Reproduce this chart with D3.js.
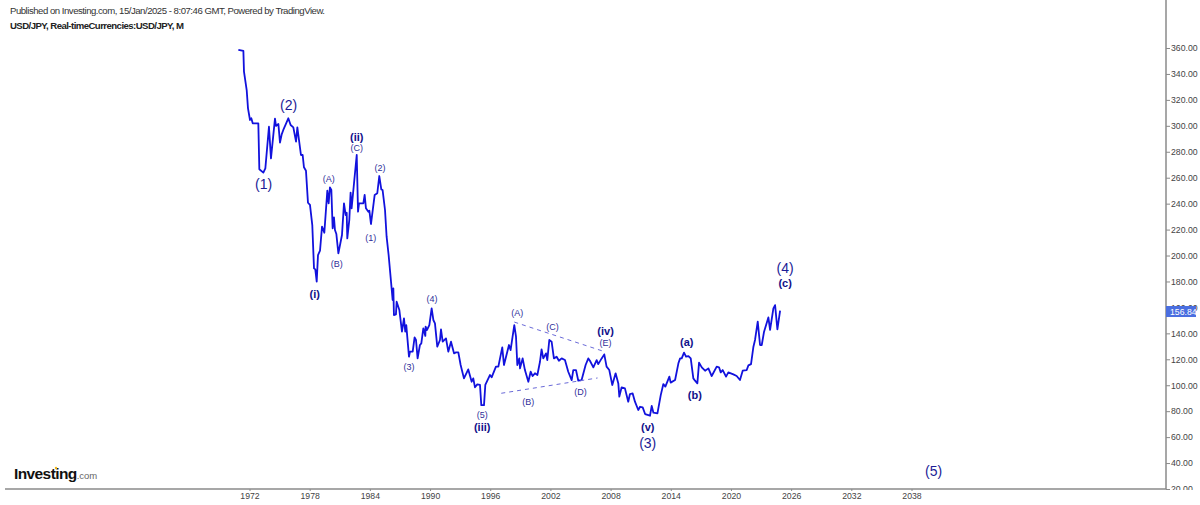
<!DOCTYPE html>
<html>
<head>
<meta charset="utf-8">
<script src="https://cdn.jsdelivr.net/npm/d3@7"></script>
<style>
  html, body { margin: 0; padding: 0; background: #fff; }
  svg { display: block; font-family: "Liberation Sans", Arial, sans-serif; }
  .axis path, .axis line { stroke: #8a8a8a; }
  .axis path { stroke-width: 1.5; }
  .axis text { fill: #444; font-size: 8.7px; font-family: "Liberation Sans", Arial, sans-serif; }
</style>
</head>
<body>
<div id="chart"></div>
<script>
// USD/JPY monthly line
var priceYears = [
  1970.89,1971.39,1971.45,1971.72,1971.85,1972.05,1972.18,1972.32,1972.88,1972.98,1973.38,1973.58,1973.94,1974.14,
  1974.54,1974.64,1974.88,1975.04,1975.21,1975.37,1975.87,1976.10,1976.37,1976.64,1976.77,1977.13,1977.30,1977.43,
  1977.63,1977.83,1978.03,1978.26,1978.43,1978.56,1978.70,1978.83,1979.03,1979.23,1979.46,1979.76,1979.89,1980.02,
  1980.16,1980.29,1980.42,1980.52,1980.66,1980.72,1980.86,1981.22,1981.42,1981.59,1981.69,1981.75,1981.95,1982.08,
  1982.18,1982.42,1982.69,1982.82,1982.92,1983.35,1983.48,1983.61,1983.85,1983.95,1984.11,1984.48,1984.74,1984.94,
  1985.14,1985.27,1985.51,1985.67,1985.87,1986.17,1986.27,1986.34,1986.40,1986.60,1986.67,1986.94,1987.20,1987.40,
  1987.53,1987.63,1987.90,1988.00,1988.27,1988.46,1988.60,1988.76,1988.99,1989.13,1989.33,1989.53,1989.56,1989.69,
  1989.93,1990.16,1990.33,1990.49,1990.72,1990.99,1991.09,1991.26,1991.59,1991.82,1992.09,1992.39,1992.59,1992.82,
  1993.05,1993.38,1993.81,1994.15,1994.31,1994.48,1994.71,1994.98,1995.11,1995.38,1995.51,1995.71,1995.98,1996.14,
  1996.57,1996.81,1997.20,1997.37,1997.87,1998.03,1998.40,1998.57,1998.70,1998.90,1998.97,1999.23,1999.46,1999.80,
  2000.03,2000.23,2000.46,2000.70,2000.96,2001.12,2001.29,2001.56,2001.69,2001.89,2002.12,2002.35,2002.62,2002.85,
  2003.12,2003.45,2003.78,2004.12,2004.28,2004.55,2004.78,2005.11,2005.51,2005.78,2005.94,2006.28,2006.61,2006.77,
  2007.11,2007.37,2007.60,2007.87,2008.17,2008.50,2008.77,2008.87,2009.10,2009.43,2009.76,2009.93,2010.20,2010.43,
  2010.76,2010.94,2011.20,2011.44,2011.93,2012.10,2012.27,2012.67,2013.00,2013.26,2013.46,2013.86,2013.99,2014.43,
  2014.76,2014.93,2015.09,2015.32,2015.52,2015.76,2015.99,2016.25,2016.42,2016.65,2016.82,2017.09,2017.42,2017.75,
  2018.08,2018.58,2018.81,2018.98,2019.18,2019.51,2019.74,2020.24,2020.57,2020.90,2021.17,2021.57,2021.74,2022.00,
  2022.24,2022.40,2022.67,2022.90,2023.07,2023.30,2023.73,2023.90,2024.23,2024.40,2024.63,2024.90
];
var priceValues = [
  358.5,357.7,341.8,327.6,313.5,304.5,305.8,301.9,301.9,266.5,263.9,267.2,299.3,274.9,
  305.5,299.9,301.4,287,293.4,296.8,305.8,300.6,298.8,287.8,298.8,277.5,277.5,268,
  265.4,240.7,239,223.5,190.1,189.3,179.9,200.4,203.7,222.3,217.6,250,240.2,252.6,
  250.5,221,229.4,219.7,216.6,212,201.7,215.8,240.2,231.2,233,213.2,227.4,248.5,
  236.4,255.7,277.5,233.8,240.2,240.2,246.7,236.4,233.8,234.6,224.3,246.7,248,261.3,
  251,250.5,235.1,214.5,200.4,174.7,165.7,174.7,154.1,154.6,164.4,158,141.3,151.6,
  141.3,146.4,122,125.9,125.9,136.9,134.9,120.7,131,132.3,143.9,138,145.2,142.6,
  146.4,159.3,150.3,147.7,129.7,134.9,143,133.6,136.1,125.9,133.6,124.6,125.3,125.3,
  115.6,105.3,112.2,102.7,105.3,98.4,100.7,100.2,84.7,84.7,100.2,103.5,107.9,106.1,
  114.3,114.3,129.2,115.6,131,127.1,146.4,137.4,115.6,120.7,113,120.7,111.7,102.7,
  110.4,107.1,109.2,107.9,118.1,127.7,120.7,124.6,119.4,134.9,133.6,120.7,122,118.9,
  120.7,119.4,110.4,104,111.7,111.7,103.5,104,115.6,120.7,118.9,113.8,119.4,116.3,
  120.7,123.8,114.3,111.7,100.2,109.2,101.4,91.2,98.4,97.6,87.3,93.2,93.7,87.3,
  80.9,83.4,82.9,77.8,76.5,84,78.8,78.3,92.4,100.9,98.9,106.6,102,104,
  116.9,120.7,120.7,125.1,122,122.5,120.7,105.3,103.5,101.4,117.4,113.8,111.2,113,
  107.1,114.3,113.8,109.9,111.7,106.6,109.9,108.4,107.1,104,111.2,111.7,115.3,116.3,
  129.7,134.9,149,131,131,141.3,152.3,142.6,159.3,161.8,143.1,157.5
];

// Axis ticks
var yearTicks = [1972,1978,1984,1990,1996,2002,2008,2014,2020,2026,2032,2038];
var priceTicks = [360,340,320,300,280,260,240,220,200,180,160,140,120,100,80,60,40,20];
var lastPrice = 156.84;

// Elliott wave labels
var waveText =  ["(1)","(2)","(ii)","(C)","(A)","(2)","(1)","(B)","(i)","(3)","(4)","(A)","(C)","(iv)","(E)","(5)","(iii)","(B)","(D)","(v)","(3)","(a)","(b)","(4)","(c)","(5)"];
var waveYears = [1973.4,1975.9,1982.7,1982.7,1979.9,1985.0,1984.1,1980.7,1978.5,1987.9,1990.2,1998.7,2002.2,2007.5,2007.5,1995.2,1995.2,1999.8,2005.0,2011.7,2011.7,2015.6,2016.4,2025.4,2025.4,2040.2];
var waveValues = [255.1,316.1,291.4,282.9,259,267.5,213.5,193.5,170.3,114,166.5,155.7,144.9,141.8,132.6,77,67.8,87.1,94.8,67.8,55.5,133.3,92.5,190.4,178.8,33.9];
var waveDegree = ["large","large","bold","small","small","small","small","small","bold","small","small","small","small","bold","small","small","bold","small","small","bold","large","bold","bold","large","bold","large"];

// Triangle trend lines
var upperYears = [1998.4,2007.2], upperValues = [148.7,126.4];
var lowerYears = [1997.1,2006.7], lowerValues = [93.8,105.6];

var width = 1200, height = 505;
var margin = {top: 0, right: 34, bottom: 16, left: 5};
var plotRight = width - margin.right, plotBottom = height - margin.bottom;

var svg = d3.select("#chart").append("svg")
    .attr("width", width)
    .attr("height", height);

var x = d3.scaleLinear().domain([1972, 2038]).range([249.5, 911.5]);
var y = d3.scaleLinear().domain([360, 20]).range([48, 489]);

// Clip for the y labels, the lowest one is cut off by the x axis
svg.append("clipPath").attr("id", "yClip")
  .append("rect").attr("x", plotRight - 1).attr("y", 0).attr("width", 40).attr("height", plotBottom + 1);

// Header text:
svg.append("text").attr("x", 10).attr("y", 14)
    .attr("font-size", 9.6).attr("fill", "#333")
    .attr("textLength", 315)
    .text("Published on Investing.com, 15/Jan/2025 - 8:07:46 GMT, Powered by TradingView.");
svg.append("text").attr("x", 10).attr("y", 29)
    .attr("font-size", 9.6).attr("font-weight", "bold").attr("fill", "#222")
    .attr("textLength", 174)
    .text("USD/JPY, Real-timeCurrencies:USD/JPY, M");

// Logo:
var logo = svg.append("text").attr("x", 14).attr("y", 479);
logo.append("tspan").attr("font-size", 15.5).attr("font-weight", "bold").attr("fill", "#111").attr("letter-spacing", -0.6).text("Investing");
logo.append("tspan").attr("font-size", 9.5).attr("fill", "#666").text(".com");
svg.append("circle").attr("cx", 56).attr("cy", 468).attr("r", 1.2).attr("fill", "#f2b81c");

// Axes:
svg.append("g").attr("class", "axis")
    .attr("transform", "translate(0," + plotBottom + ")")
    .call(d3.axisBottom(x).tickValues(yearTicks).tickFormat(d3.format("d")).tickSize(2).tickPadding(2).tickSizeOuter(0))
    .call(function(g) { g.select(".domain").attr("d", "M" + margin.left + ",0H" + plotRight); });

// The clip goes on an outer group so it stays in page coordinates
svg.append("g").attr("clip-path", "url(#yClip)")
  .append("g").attr("class", "axis")
    .attr("transform", "translate(" + plotRight + ",0)")
    .call(d3.axisRight(y).tickValues(priceTicks).tickFormat(d3.format(".2f")).tickSize(4).tickPadding(1))
    .call(function(g) { g.select(".domain").attr("d", "M0,0V" + plotBottom); });

// Price line:
var line = d3.line().x(function(d) { return x(d[0]); }).y(function(d) { return y(d[1]); });

svg.append("path")
    .datum(d3.zip(priceYears, priceValues))
    .attr("d", line)
    .attr("fill", "none")
    .attr("stroke", "#1212dd")
    .attr("stroke-width", 1.8)
    .attr("stroke-linejoin", "round");

// Dashed triangle lines:
[[upperYears, upperValues], [lowerYears, lowerValues]].forEach(function(t) {
  svg.append("path")
      .datum(d3.zip(t[0], t[1]))
      .attr("d", line)
      .attr("fill", "none")
      .attr("stroke", "#6a6ad8")
      .attr("stroke-width", 1)
      .attr("stroke-dasharray", "4 4");
});

// Wave labels:
var fontSizes = {large: 14, bold: 11, small: 9};
var fontColors = {large: "#1c1c96", bold: "#10108a", small: "#2f2f9a"};

svg.selectAll(".wave")
    .data(d3.range(waveText.length))
    .enter().append("text")
    .attr("class", "wave")
    .attr("x", function(i) { return x(waveYears[i]); })
    .attr("y", function(i) { return y(waveValues[i]); })
    .attr("dy", "0.35em")
    .attr("text-anchor", "middle")
    .attr("font-size", function(i) { return fontSizes[waveDegree[i]]; })
    .attr("font-weight", function(i) { return waveDegree[i] == "bold" ? "bold" : "normal"; })
    .attr("fill", function(i) { return fontColors[waveDegree[i]]; })
    .text(function(i) { return waveText[i]; });

// Last price tag:
svg.append("rect")
    .attr("x", plotRight).attr("y", y(lastPrice) - 5.5)
    .attr("width", 30).attr("height", 11)
    .attr("fill", "#4a6ee0");
svg.append("text")
    .attr("x", plotRight + 4).attr("y", y(lastPrice))
    .attr("dy", "0.35em")
    .attr("font-size", 8.7).attr("fill", "#fff")
    .text(lastPrice.toFixed(2));
</script>
</body>
</html>
